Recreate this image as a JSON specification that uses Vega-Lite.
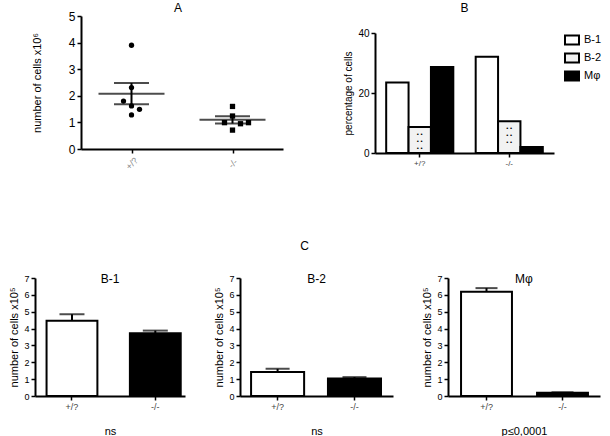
{
  "$schema": "https://vega.github.io/schema/vega-lite/v6.json",
  "background": "white",
  "padding": {"left": 8, "top": 2, "right": 0, "bottom": 0},
  "config": {
    "font": "Liberation Sans",
    "view": {"stroke": null},
    "axis": {"domainColor": "black", "domainWidth": 2, "tickColor": "black", "tickWidth": 1.5, "tickSize": 4, "labelColor": "black", "labelFont": "Liberation Sans", "titleFont": "Liberation Sans", "titleFontWeight": "normal", "titleColor": "black", "grid": false, "labelFontSize": 10, "titleFontSize": 11},
    "title": {"fontWeight": "normal", "fontSize": 12, "font": "Liberation Sans", "color": "black"}
  },
  "datasets": {
    "pointsA": [
      {"genotype": "+/?", "cells": 3.9, "col": 0},
      {"genotype": "+/?", "cells": 2.31, "col": 0},
      {"genotype": "+/?", "cells": 1.8, "col": -1},
      {"genotype": "+/?", "cells": 1.62, "col": 0},
      {"genotype": "+/?", "cells": 1.49, "col": 1},
      {"genotype": "+/?", "cells": 1.28, "col": 0},
      {"genotype": "-/-", "cells": 1.6, "col": 0},
      {"genotype": "-/-", "cells": 1.24, "col": 0},
      {"genotype": "-/-", "cells": 0.99, "col": -1},
      {"genotype": "-/-", "cells": 0.95, "col": 1},
      {"genotype": "-/-", "cells": 0.99, "col": 2},
      {"genotype": "-/-", "cells": 0.71, "col": 0}
    ],
    "summaryA": [
      {"genotype": "+/?", "mean": 2.08, "lo": 1.68, "hi": 2.48},
      {"genotype": "-/-", "mean": 1.10, "lo": 0.96, "hi": 1.23}
    ],
    "pctB": [
      {"genotype": "+/?", "cell": "B-1", "pct": 23.5},
      {"genotype": "+/?", "cell": "B-2", "pct": 8.7},
      {"genotype": "+/?", "cell": "Mφ", "pct": 28.7},
      {"genotype": "-/-", "cell": "B-1", "pct": 32.1},
      {"genotype": "-/-", "cell": "B-2", "pct": 10.6},
      {"genotype": "-/-", "cell": "Mφ", "pct": 2.0}
    ],
    "countsC": [
      {"panel": "B-1", "genotype": "+/?", "mean": 4.47, "upper": 4.85},
      {"panel": "B-1", "genotype": "-/-", "mean": 3.72, "upper": 3.88},
      {"panel": "B-2", "genotype": "+/?", "mean": 1.43, "upper": 1.61},
      {"panel": "B-2", "genotype": "-/-", "mean": 1.04, "upper": 1.12},
      {"panel": "Mφ", "genotype": "+/?", "mean": 6.18, "upper": 6.4},
      {"panel": "Mφ", "genotype": "-/-", "mean": 0.2, "upper": 0.22}
    ]
  },
  "resolve": {"scale": {"fill": "independent", "shape": "independent"}, "legend": {"fill": "independent"}},
  "spacing": 68,
  "vconcat": [
    {
      "spacing": 60,
      "resolve": {"scale": {"fill": "independent", "shape": "independent"}, "legend": {"fill": "independent"}},
      "hconcat": [
        {
          "width": 248, "height": 133,
          "title": {"text": "A", "offset": -5, "frame": "group", "dx": 19},
          "encoding": {
            "x": {"field": "genotype", "type": "nominal", "scale": {"type": "point", "padding": 0.5, "domain": ["+/?", "-/-"], "range": [46, 248]}, "axis": {"title": null, "labelAngle": -45, "labelAlign": "center", "labelBaseline": "middle", "labelColor": "#888", "labelFontSize": 9, "labelPadding": 10}}
          },
          "layer": [
            {
              "data": {"name": "pointsA"},
              "mark": {"type": "point", "filled": true, "color": "black", "opacity": 1, "size": 28},
              "encoding": {
                "xOffset": {"field": "col", "type": "quantitative", "scale": {"domain": [-1, 1], "range": [-8, 8]}},
                "y": {"field": "cells", "type": "quantitative", "scale": {"domain": [0, 5]}, "axis": {"title": "number of cells x10⁶", "values": [0, 1, 2, 3, 4, 5], "labelFontSize": 12, "titlePadding": 26, "offset": -46}},
                "shape": {"field": "genotype", "type": "nominal", "scale": {"domain": ["+/?", "-/-"], "range": ["circle", "square"]}, "legend": null}
              }
            },
            {
              "data": {"name": "summaryA"},
              "mark": {"type": "rule", "color": "black", "strokeWidth": 2},
              "encoding": {
                "y": {"field": "lo", "type": "quantitative", "axis": {"title": "number of cells x10⁶", "values": [0, 1, 2, 3, 4, 5], "labelFontSize": 12, "titlePadding": 26, "offset": -46}},
                "y2": {"field": "hi"}
              }
            },
            {
              "data": {"name": "summaryA"},
              "mark": {"type": "tick", "orient": "horizontal", "color": "black", "thickness": 2, "size": 66},
              "encoding": {"y": {"field": "mean", "type": "quantitative", "axis": {"title": "number of cells x10⁶", "values": [0, 1, 2, 3, 4, 5], "labelFontSize": 12, "titlePadding": 26, "offset": -46}}}
            },
            {
              "data": {"name": "summaryA"},
              "mark": {"type": "tick", "orient": "horizontal", "color": "black", "thickness": 2, "size": 35},
              "encoding": {"y": {"field": "lo", "type": "quantitative", "axis": {"title": "number of cells x10⁶", "values": [0, 1, 2, 3, 4, 5], "labelFontSize": 12, "titlePadding": 26, "offset": -46}}}
            },
            {
              "data": {"name": "summaryA"},
              "mark": {"type": "tick", "orient": "horizontal", "color": "black", "thickness": 2, "size": 35},
              "encoding": {"y": {"field": "hi", "type": "quantitative", "axis": {"title": "number of cells x10⁶", "values": [0, 1, 2, 3, 4, 5], "labelFontSize": 12, "titlePadding": 26, "offset": -46}}}
            }
          ]
        },
        {
          "width": 179, "height": 137,
          "title": {"text": "B", "offset": 1},
          "data": {"name": "pctB"},
          "encoding": {
            "x": {"field": "genotype", "type": "nominal", "scale": {"domain": ["+/?", "-/-"], "paddingInner": 0.25, "paddingOuter": 0.125}, "axis": {"title": null, "labelAngle": 0, "labelFontSize": 8, "labelColor": "#444"}},
            "xOffset": {"field": "cell", "type": "nominal", "scale": {"domain": ["B-1", "B-2", "Mφ"], "paddingInner": 0, "paddingOuter": 0}}
          },
          "layer": [
            {
              "mark": {"type": "bar", "stroke": "black", "strokeWidth": 2},
              "encoding": {
                "y": {"field": "pct", "type": "quantitative", "scale": {"domain": [0, 40], "range": [137, 17]}, "axis": {"title": "percentage of cells", "values": [0, 10, 20, 30, 40], "titleFontSize": 10}},
                "fill": {"field": "cell", "type": "nominal", "scale": {"domain": ["B-1", "B-2", "Mφ"], "range": ["white", "#f2f2f2", "black"]},
                  "legend": {"title": null, "orient": "right", "offset": -6, "padding": 18, "rowPadding": 0, "symbolType": "M-1.4,-0.9H1.4V0.9H-1.4Z", "symbolSize": 100, "symbolStrokeColor": "black", "symbolStrokeWidth": 2, "labelFontSize": 11, "labelColor": "black", "labelOffset": 6}}
              }
            },
            {
              "transform": [{"filter": "datum.cell === 'B-2'"}],
              "mark": {"type": "text", "text": ["•    •", "•    •", "•    •"], "baseline": "top", "fontSize": 6, "lineHeight": 7, "dy": 4, "color": "black"},
              "encoding": {"y": {"field": "pct", "type": "quantitative"}}
            }
          ]
        }
      ]
    },
    {
      "title": {"text": "C", "anchor": "middle", "offset": 20},
      "spacing": 28,
      "hconcat": [
        {
          "width": 150, "height": 118,
          "title": {"text": "B-1", "offset": -12, "frame": "group"},
          "data": {"name": "countsC"},
          "transform": [{"filter": "datum.panel === 'B-1'"}],
          "encoding": {
            "x": {"field": "genotype", "type": "nominal", "scale": {"domain": ["+/?", "-/-"], "paddingInner": 0.39, "paddingOuter": 0.095, "align": 0.73}, "axis": {"title": "ns", "labelAngle": 0, "labelFontSize": 9, "labelColor": "#444", "titlePadding": 14}}
          },
          "layer": [
            {"mark": {"type": "bar", "stroke": "black", "strokeWidth": 2},
             "encoding": {"y": {"field": "mean", "type": "quantitative", "scale": {"domain": [0, 7]}, "axis": {"title": "number of cells x10⁵", "values": [0, 1, 2, 3, 4, 5, 6, 7], "labelFontSize": 9}},
               "fill": {"field": "genotype", "type": "nominal", "scale": {"domain": ["+/?", "-/-"], "range": ["white", "black"]}, "legend": null}}},
            {"mark": {"type": "rule", "color": "black", "strokeWidth": 2},
             "encoding": {"y": {"field": "mean", "type": "quantitative", "axis": {"title": "number of cells x10⁵", "values": [0, 1, 2, 3, 4, 5, 6, 7], "labelFontSize": 9}}, "y2": {"field": "upper"}}},
            {"mark": {"type": "tick", "orient": "horizontal", "color": "black", "thickness": 2, "size": 25},
             "encoding": {"y": {"field": "upper", "type": "quantitative", "axis": {"title": "number of cells x10⁵", "values": [0, 1, 2, 3, 4, 5, 6, 7], "labelFontSize": 9}}}}
          ]
        },
        {
          "width": 153, "height": 118,
          "title": {"text": "B-2", "offset": -12, "frame": "group"},
          "data": {"name": "countsC"},
          "transform": [{"filter": "datum.panel === 'B-2'"}],
          "encoding": {
            "x": {"field": "genotype", "type": "nominal", "scale": {"domain": ["+/?", "-/-"], "paddingInner": 0.31, "paddingOuter": 0.15, "align": 0.48}, "axis": {"title": "ns", "labelAngle": 0, "labelFontSize": 9, "labelColor": "#444", "titlePadding": 14}}
          },
          "layer": [
            {"mark": {"type": "bar", "stroke": "black", "strokeWidth": 2},
             "encoding": {"y": {"field": "mean", "type": "quantitative", "scale": {"domain": [0, 7]}, "axis": {"title": "number of cells x10⁵", "values": [0, 1, 2, 3, 4, 5, 6, 7], "labelFontSize": 9}},
               "fill": {"field": "genotype", "type": "nominal", "scale": {"domain": ["+/?", "-/-"], "range": ["white", "black"]}, "legend": null}}},
            {"mark": {"type": "rule", "color": "black", "strokeWidth": 2},
             "encoding": {"y": {"field": "mean", "type": "quantitative", "axis": {"title": "number of cells x10⁵", "values": [0, 1, 2, 3, 4, 5, 6, 7], "labelFontSize": 9}}, "y2": {"field": "upper"}}},
            {"mark": {"type": "tick", "orient": "horizontal", "color": "black", "thickness": 2, "size": 24},
             "encoding": {"y": {"field": "upper", "type": "quantitative", "axis": {"title": "number of cells x10⁵", "values": [0, 1, 2, 3, 4, 5, 6, 7], "labelFontSize": 9}}}}
          ]
        },
        {
          "width": 152, "height": 118,
          "title": {"text": "Mφ", "offset": -12, "frame": "group"},
          "data": {"name": "countsC"},
          "transform": [{"filter": "datum.panel === 'Mφ'"}],
          "encoding": {
            "x": {"field": "genotype", "type": "nominal", "scale": {"domain": ["+/?", "-/-"], "paddingInner": 0.33, "paddingOuter": 0.165, "align": 0.52}, "axis": {"title": "p≤0,0001", "labelAngle": 0, "labelFontSize": 9, "labelColor": "#444", "titlePadding": 14}}
          },
          "layer": [
            {"mark": {"type": "bar", "stroke": "black", "strokeWidth": 2},
             "encoding": {"y": {"field": "mean", "type": "quantitative", "scale": {"domain": [0, 7]}, "axis": {"title": "number of cells x10⁵", "values": [0, 1, 2, 3, 4, 5, 6, 7], "labelFontSize": 9}},
               "fill": {"field": "genotype", "type": "nominal", "scale": {"domain": ["+/?", "-/-"], "range": ["white", "black"]}, "legend": null}}},
            {"mark": {"type": "rule", "color": "black", "strokeWidth": 2},
             "encoding": {"y": {"field": "mean", "type": "quantitative", "axis": {"title": "number of cells x10⁵", "values": [0, 1, 2, 3, 4, 5, 6, 7], "labelFontSize": 9}}, "y2": {"field": "upper"}}},
            {"mark": {"type": "tick", "orient": "horizontal", "color": "black", "thickness": 2, "size": 22},
             "encoding": {"y": {"field": "upper", "type": "quantitative", "axis": {"title": "number of cells x10⁵", "values": [0, 1, 2, 3, 4, 5, 6, 7], "labelFontSize": 9}}}}
          ]
        }
      ]
    }
  ]
}
